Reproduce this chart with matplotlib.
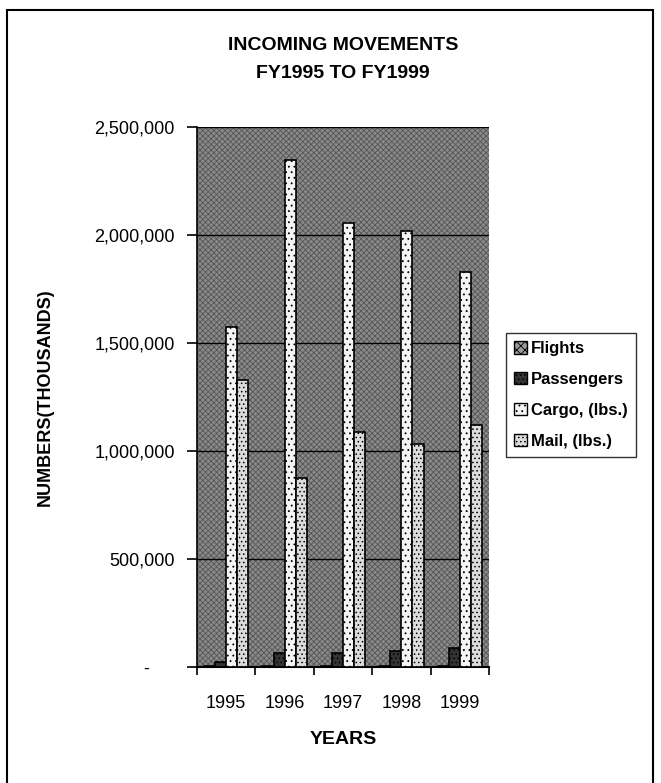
import numpy as np
import matplotlib
matplotlib.use("Agg")
import matplotlib.pyplot as plt
from matplotlib.patches import Rectangle, Patch
from matplotlib.ticker import FuncFormatter, FixedLocator

plt.rcParams['font.family'] = ['Liberation Sans', 'DejaVu Sans']
plt.rcParams['hatch.linewidth'] = 0.6

# values (thousands)
years = ['1995', '1996', '1997', '1998', '1999']
flights = [3000, 3000, 3000, 3000, 3000]
passengers = [23000, 65000, 65000, 74000, 88000]
cargo = [1574000, 2347000, 2056000, 2019000, 1829000]
mail = [1329000, 875000, 1088000, 1032000, 1120000]

series = [
    ('Flights', flights, '#9a9a9a', 'xxxx'),
    ('Passengers', passengers, '#333333', '....'),
    ('Cargo, (lbs.)', cargo, '#f4f4f4', '...'),
    ('Mail, (lbs.)', mail, '#dcdcdc', '....'),
]

fig = plt.figure(figsize=(6.61, 7.83), dpi=100)
ax = fig.add_axes([197 / 661, 1 - 667 / 783, 292 / 661, 540 / 783])

# dithered grey plot area
ax.set_facecolor('#8a8a8a')
ax.patch.set_hatch('xxxxxx')
ax.patch.set_edgecolor('#555555')

x = np.arange(len(years))
w = 0.19
for i, (name, vals, col, hatch) in enumerate(series):
    ax.bar(x + (i - 1.5) * w, vals, width=w, color=col, edgecolor='black',
           linewidth=1.2, hatch=hatch, zorder=3)

ax.set_xlim(-0.5, 4.5)
ax.set_ylim(0, 2500000)
ax.set_yticks(np.arange(0, 2500001, 500000))
# accounting style: zero shown as a dash set in from the right
ax.yaxis.set_major_formatter(FuncFormatter(lambda v, p: '-     ' if v == 0 else f'{int(v):,}'))
ax.grid(axis='y', color='black', linewidth=1.0, zorder=2)
ax.set_axisbelow(False)

ax.set_xticks(x)
ax.set_xticklabels(years)
ax.xaxis.set_minor_locator(FixedLocator(np.arange(-0.5, 5, 1)))
ax.tick_params(axis='x', which='major', length=0, pad=20, labelsize=13)
ax.tick_params(axis='x', which='minor', length=6, width=1.2, direction='out')
ax.tick_params(axis='y', length=7, width=1.2, direction='out', pad=9, labelsize=13)

for s in ['top', 'right']:
    ax.spines[s].set_visible(False)
ax.spines['left'].set_linewidth(1.2)
ax.spines['bottom'].set_linewidth(1.5)

ax.set_xlabel('YEARS', fontsize=14, fontweight='bold', labelpad=14)
fig.text(45 / 661, 1 - 397 / 783, 'NUMBERS(THOUSANDS)', rotation=90, ha='center',
         va='center', fontsize=13, fontweight='bold')

fig.text(343 / 661, 1 - 45 / 783, 'INCOMING MOVEMENTS', ha='center', va='center',
         fontsize=14, fontweight='bold')
fig.text(343 / 661, 1 - 73 / 783, 'FY1995 TO FY1999', ha='center', va='center',
         fontsize=14, fontweight='bold')

handles = [Patch(facecolor=c, edgecolor='black', hatch=h, label=n) for n, _, c, h in series]
leg = fig.legend(handles=handles, loc='upper left',
                 bbox_to_anchor=(506 / 661, 1 - 333 / 783), frameon=True,
                 fancybox=False, edgecolor='black', handlelength=0.75,
                 handleheight=0.75, handletextpad=0.25, labelspacing=0.95,
                 borderpad=0.5, borderaxespad=0, prop={'weight': 'bold', 'size': 12})
leg.get_frame().set_linewidth(1.0)

# outer frame of the scanned page
fig.patches.append(Rectangle((7 / 661, -0.01), 646 / 661, 1 - 10 / 783 + 0.01,
                             transform=fig.transFigure, fill=False,
                             edgecolor='black', linewidth=1.5))

fig.savefig('out.png', dpi=100)
